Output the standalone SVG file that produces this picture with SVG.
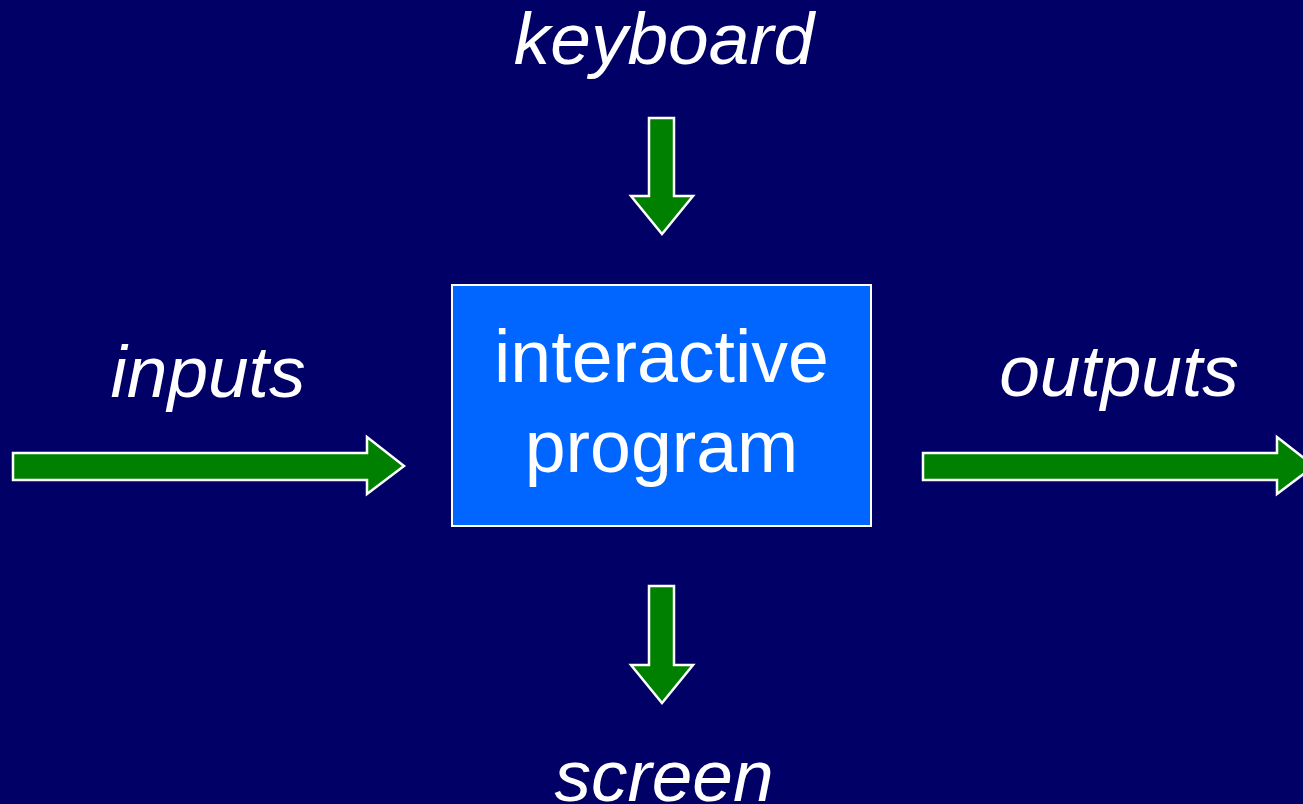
<svg xmlns="http://www.w3.org/2000/svg" width="1303" height="804" viewBox="0 0 1303 804">
<style>
.arrow{fill:#008000;stroke:#ffffff;stroke-width:2.5;stroke-linejoin:miter}
.lbl{font-family:"Liberation Sans",Arial,sans-serif;font-style:italic;font-size:73px;fill:#ffffff;text-anchor:middle}
.box{fill:#0066ff;stroke:#ffffff;stroke-width:2}
.btxt{font-family:"Liberation Sans",Arial,sans-serif;font-size:73.5px;fill:#ffffff;text-anchor:middle}
</style>
<rect width="1303" height="804" fill="#000066"/>
<g id="connectors">
<polygon class="arrow" points="649,118 674,118 674,196 693,196 662,234 631,196 649,196"/>
<polygon class="arrow" points="649,586 674,586 674,665 693,665 662,703 631,665 649,665"/>
<polygon class="arrow" points="13,453 367,453 367,437 404,466 367,494 367,480 13,480"/>
<polygon class="arrow" points="923,453 1277,453 1277,437 1314,466 1277,494 1277,480 923,480"/>
</g>
<g id="node-program">
<rect class="box" x="452" y="285" width="419" height="241"/>
<text class="btxt" x="661.5" y="382">interactive</text>
<text class="btxt" x="661.5" y="472">program</text>
</g>
<g id="label-keyboard"><text class="lbl" x="664" y="64">keyboard</text></g>
<g id="label-inputs"><text class="lbl" x="208" y="397">inputs</text></g>
<g id="label-outputs"><text class="lbl" x="1119" y="396">outputs</text></g>
<g id="label-screen"><text class="lbl" x="664" y="801">screen</text></g>
</svg>
